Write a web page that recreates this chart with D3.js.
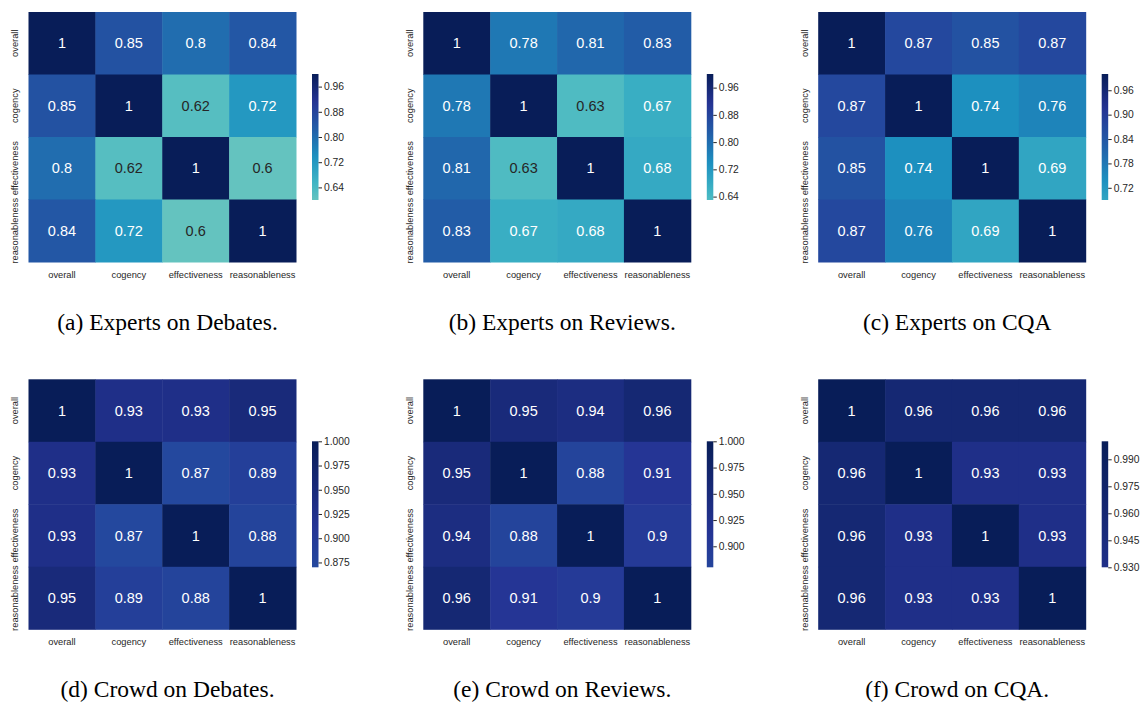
<!DOCTYPE html>
<html>
<head>
<meta charset="utf-8">
<script src="https://cdn.jsdelivr.net/npm/d3@7"></script>
<style>
  html, body { margin: 0; padding: 0; background: #fff; }
  svg { display: block; }
</style>
</head>
<body>
<svg id="fig" width="1143" height="705"></svg>
<script>
// Aspects compared in every correlation matrix
const aspects = ["overall", "cogency", "effectiveness", "reasonableness"];

// Pairwise correlations (rows/cols follow `aspects`)
const expertsDebates = [
  [1, 0.85, 0.8, 0.84],
  [0.85, 1, 0.62, 0.72],
  [0.8, 0.62, 1, 0.6],
  [0.84, 0.72, 0.6, 1]
];
const expertsReviews = [
  [1, 0.78, 0.81, 0.83],
  [0.78, 1, 0.63, 0.67],
  [0.81, 0.63, 1, 0.68],
  [0.83, 0.67, 0.68, 1]
];
const expertsCQA = [
  [1, 0.87, 0.85, 0.87],
  [0.87, 1, 0.74, 0.76],
  [0.85, 0.74, 1, 0.69],
  [0.87, 0.76, 0.69, 1]
];
const crowdDebates = [
  [1, 0.93, 0.93, 0.95],
  [0.93, 1, 0.87, 0.89],
  [0.93, 0.87, 1, 0.88],
  [0.95, 0.89, 0.88, 1]
];
const crowdReviews = [
  [1, 0.95, 0.94, 0.96],
  [0.95, 1, 0.88, 0.91],
  [0.94, 0.88, 1, 0.9],
  [0.96, 0.91, 0.9, 1]
];
const crowdCQA = [
  [1, 0.96, 0.96, 0.96],
  [0.96, 1, 0.93, 0.93],
  [0.96, 0.93, 1, 0.93],
  [0.96, 0.93, 0.93, 1]
];

// Colorbar tick values per panel
const ticksA = [0.64, 0.72, 0.80, 0.88, 0.96];
const ticksB = [0.64, 0.72, 0.80, 0.88, 0.96];
const ticksC = [0.72, 0.78, 0.84, 0.90, 0.96];
const ticksD = [0.875, 0.900, 0.925, 0.950, 0.975, 1.000];
const ticksE = [0.900, 0.925, 0.950, 0.975, 1.000];
const ticksF = [0.930, 0.945, 0.960, 0.975, 0.990];

const captions = [
  "(a) Experts on Debates.", "(b) Experts on Reviews.", "(c) Experts on CQA",
  "(d) Crowd on Debates.", "(e) Crowd on Reviews.", "(f) Crowd on CQA."
];

const matrices = [expertsDebates, expertsReviews, expertsCQA, crowdDebates, crowdReviews, crowdCQA];
const tickSets = [ticksA, ticksB, ticksC, ticksD, ticksE, ticksF];
const tickFormats = [".2f", ".2f", ".2f", ".3f", ".3f", ".3f"];

// YlGnBu colour ramp (piecewise linear), centred colormap as in seaborn
const ylgnbu = ["#ffffd9", "#edf8b1", "#c7e9b4", "#7fcdbb", "#41b6c4", "#1d91c0", "#225ea8", "#253494", "#081d58"];
const rampPos = d3.scaleLinear().domain([0, 1]).range([0, ylgnbu.length - 1]);
const ramp = d3.scaleLinear()
  .domain(d3.range(ylgnbu.length).map(i => i / (ylgnbu.length - 1)))
  .range(ylgnbu)
  .interpolate(d3.interpolateRgb)
  .clamp(true);
const center = 0.65;

function colorScale(vmin, vmax) {
  const vrange = Math.max(vmax - center, center - vmin);
  const norm = d3.scaleLinear().domain([center - vrange, center + vrange]).range([0, 1]);
  return v => ramp(norm(v));
}

function luminance(col) {
  const c = d3.rgb(col);
  const lin = x => { x /= 255; return x <= 0.03928 ? x / 12.92 : Math.pow((x + 0.055) / 1.055, 2.4); };
  return 0.2126 * lin(c.r) + 0.7152 * lin(c.g) + 0.0722 * lin(c.b);
}

const svg = d3.select("#fig");
const defs = svg.append("defs");

const mapW = 267.5, mapH = 250;
const colLeft = [28.5, 423.3, 818.2];
const rowTop = [12, 379.3];
const captionDx = [139, 139, 139];
const sans = "'Liberation Sans', Arial, sans-serif";
const textCol = "#262626";

matrices.forEach((m, k) => {
  const left = colLeft[k % 3], top = rowTop[Math.floor(k / 3)];
  const g = svg.append("g").attr("transform", `translate(${left},${top})`);

  const x = d3.scaleBand().domain(aspects).range([0, mapW]);
  const y = d3.scaleBand().domain(aspects).range([0, mapH]);
  const flat = m.flat();
  const vmin = d3.min(flat), vmax = d3.max(flat);
  const color = colorScale(vmin, vmax);

  const cells = [];
  m.forEach((row, i) => row.forEach((v, j) => cells.push({ r: aspects[i], c: aspects[j], v })));

  g.selectAll("rect.cell").data(cells).join("rect")
    .attr("class", "cell")
    .attr("x", d => x(d.c))
    .attr("y", d => y(d.r))
    .attr("width", x.bandwidth() + 0.5)
    .attr("height", y.bandwidth() + 0.5)
    .attr("fill", d => color(d.v));

  g.selectAll("text.ann").data(cells).join("text")
    .attr("class", "ann")
    .attr("x", d => x(d.c) + x.bandwidth() / 2)
    .attr("y", d => y(d.r) + y.bandwidth() / 2)
    .attr("text-anchor", "middle")
    .attr("dominant-baseline", "central")
    .attr("font-family", sans)
    .attr("font-size", 14.5)
    .attr("fill", d => luminance(color(d.v)) > 0.408 ? textCol : "#ffffff")
    .text(d => String(+d.v.toPrecision(2)));

  // axis labels
  g.selectAll("text.xl").data(aspects).join("text")
    .attr("class", "xl")
    .attr("x", d => x(d) + x.bandwidth() / 2)
    .attr("y", mapH + 15.5)
    .attr("text-anchor", "middle")
    .attr("font-family", sans)
    .attr("font-size", 9.3)
    .attr("fill", textCol)
    .text(d => d);

  g.selectAll("text.yl").data(aspects).join("text")
    .attr("class", "yl")
    .attr("transform", d => `translate(-10.5,${y(d) + y.bandwidth() / 2}) rotate(-90)`)
    .attr("text-anchor", "middle")
    .attr("font-family", sans)
    .attr("font-size", 9.3)
    .attr("fill", textCol)
    .text(d => d);

  // colorbar
  const cbX = mapW + 16, cbW = 6.5, cbH = 126, cbY = (mapH - cbH) / 2;
  const cbScale = d3.scaleLinear().domain([vmin, vmax]).range([cbY + cbH, cbY]);
  const gradId = "grad" + k;
  const grad = defs.append("linearGradient").attr("id", gradId)
    .attr("x1", 0).attr("y1", 1).attr("x2", 0).attr("y2", 0);
  d3.range(0, 1.0001, 0.05).forEach(f => {
    grad.append("stop").attr("offset", f).attr("stop-color", color(vmin + f * (vmax - vmin)));
  });
  g.append("rect")
    .attr("x", cbX).attr("y", cbY).attr("width", cbW).attr("height", cbH)
    .attr("fill", `url(#${gradId})`);

  const axis = d3.axisRight(cbScale)
    .tickValues(tickSets[k].filter(t => t >= vmin - 1e-9 && t <= vmax + 1e-9))
    .tickFormat(d3.format(tickFormats[k]))
    .tickSize(3.5)
    .tickPadding(2);
  const ag = g.append("g").attr("transform", `translate(${cbX + cbW},0)`).call(axis);
  ag.select(".domain").remove();
  ag.selectAll(".tick line").attr("stroke", textCol).attr("stroke-width", 1);
  ag.selectAll(".tick text").attr("fill", textCol).attr("font-family", sans).attr("font-size", 10.3);

  // caption
  svg.append("text")
    .attr("x", left + captionDx[k % 3])
    .attr("y", top + 318)
    .attr("text-anchor", "middle")
    .attr("font-family", "'Liberation Serif', 'Times New Roman', serif")
    .attr("font-size", 23.5)
    .attr("fill", "#000")
    .text(captions[k]);
});
</script>
</body>
</html>
